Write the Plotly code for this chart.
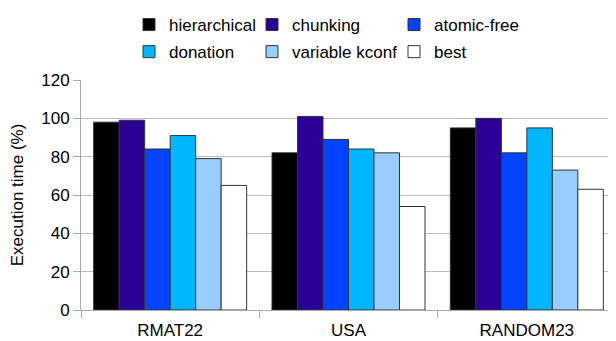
import plotly.graph_objects as go

categories = ["RMAT22", "USA", "RANDOM23"]
series_names = ["hierarchical", "chunking", "atomic-free", "donation", "variable kconf", "best"]
hierarchical = [98, 82, 95]
chunking = [99, 101, 100]
atomic_free = [84, 89, 82]
donation = [91, 84, 95]
variable_kconf = [79, 82, 73]
best = [65, 54, 63]
y_ticks = [0, 20, 40, 60, 80, 100, 120]

series_values = [hierarchical, chunking, atomic_free, donation, variable_kconf, best]
colors = ["#000000", "#2A0096", "#0044FF", "#00B7FF", "#99CCFF", "#FFFFFF"]
# legend columns: (hierarchical, donation), (chunking, variable kconf), (atomic-free, best)
legends = ["legend", "legend2", "legend3", "legend", "legend2", "legend3"]

FONT = "Liberation Sans, Arial, sans-serif"
W, H = 608, 333  # page body has an 8px margin
ML, MR, MT, MB = 73, 0, 72, 31
PW, PH = W - ML - MR, H - MT - MB

fig = go.Figure()
for name, vals, col, lg in zip(series_names, series_values, colors, legends):
    fig.add_trace(go.Bar(
        name=name, x=categories, y=vals,
        marker=dict(color=col, line=dict(color="#333333", width=1)),
        legend=lg, legendgroup=name,
    ))

def leg(px_left, px_top=-1):
    return dict(
        orientation="v",
        xanchor="left", yanchor="top",
        x=(px_left - ML) / PW, y=(H - MB - px_top) / PH,
        font=dict(family=FONT, size=17, color="#000000"),
        bgcolor="rgba(0,0,0,0)", borderwidth=0,
        traceorder="grouped", tracegroupgap=2, itemwidth=30,
    )

fig.update_layout(
    width=W, height=H,
    margin=dict(l=ML, r=MR, t=MT, b=MB, autoexpand=False),
    paper_bgcolor="white", plot_bgcolor="white",
    barmode="group", bargap=0.142, bargroupgap=0,
    font=dict(family=FONT, size=17, color="#000000"),
    showlegend=True,
    legend=leg(121), legend2=leg(244), legend3=leg(386),
    xaxis=dict(
        showline=True, linecolor="#AAAAAA", linewidth=1,
        ticks="outside", tickson="boundaries", ticklen=7, tickcolor="#AAAAAA",
        showgrid=False, tickfont=dict(size=17), ticklabelstandoff=5,
    ),
    yaxis=dict(
        range=[0, 120], tickvals=y_ticks,
        showline=True, linecolor="#AAAAAA", linewidth=1,
        ticks="outside", ticklen=7, tickcolor="#AAAAAA",
        showgrid=True, gridcolor="#BBBBBB", gridwidth=1,
        zeroline=False, tickfont=dict(size=17),
        title=dict(text="Execution time (%)", font=dict(size=17)),
    ),
)

fig.write_html("out.html")
